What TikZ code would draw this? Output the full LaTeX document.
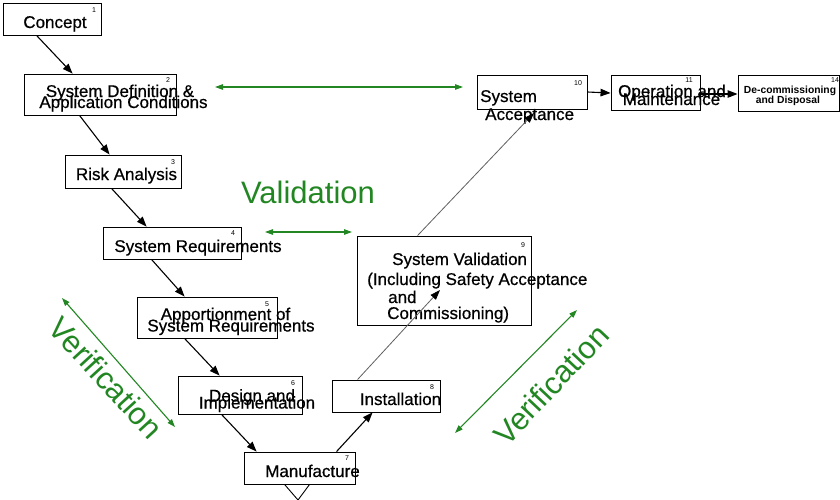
\documentclass[tikz,border=0pt]{standalone}
\usepackage{fontspec}
\setmainfont{Liberation Sans}
\newfontfamily\heavy[FakeBold=0.6]{Liberation Sans}
\usetikzlibrary{arrows.meta}
\definecolor{vgreen}{RGB}{34,135,34}
\definecolor{lgray}{RGB}{95,95,95}
\begin{document}
\begin{tikzpicture}[x=1pt,y=-1pt,
  box/.style={draw, line width=0.9pt, inner sep=0pt},
  lbl/.style={inner sep=0pt, anchor=base, font=\heavy\fontsize{17}{17}\selectfont},
  lblw/.style={inner sep=0pt, anchor=base west, font=\heavy\fontsize{17}{17}\selectfont},
  smallbold/.style={inner sep=0pt, anchor=base, font=\fontsize{10.3}{10.3}\selectfont\bfseries},
  num/.style={inner sep=0pt, anchor=center, font=\fontsize{7}{7}\selectfont},
  flow/.style={line width=1.1pt, -{Triangle[length=10pt,width=7.5pt]}},
  grayflow/.style={lgray, line width=0.8pt, -{Triangle[length=10pt,width=7pt,black]}},
  twoway/.style={vgreen, line width=1.1pt, {Triangle[length=8pt,width=5.5pt]}-{Triangle[length=8pt,width=5.5pt]}},
  big/.style={inner sep=0pt, text=vgreen, font=\fontsize{31}{31}\selectfont}]
\fill[white] (0,0) rectangle (840,499);
\useasboundingbox (0,0) rectangle (840,499);

% boxes
\node[box, minimum width=98pt, minimum height=32pt] (concept) at (52,19) {};
\node[box, minimum width=152pt, minimum height=41pt] (sysdef) at (100,94.5) {};
\node[box, minimum width=116pt, minimum height=33pt] (risk) at (123,171.5) {};
\node[box, minimum width=138pt, minimum height=32pt] (sysreq) at (172,243) {};
\node[box, minimum width=140pt, minimum height=41pt] (apport) at (207,317.5) {};
\node[box, minimum width=124pt, minimum height=38pt] (design) at (240,395) {};
\node[box, minimum width=111pt, minimum height=32pt] (manuf) at (299.5,468) {};
\node[box, minimum width=108pt, minimum height=32pt] (install) at (386,396) {};
\node[box, minimum width=174pt, minimum height=89pt] (sysval) at (444,280.5) {};
\node[box, minimum width=110pt, minimum height=34pt] (sysacc) at (532,92) {};
\node[box, minimum width=89pt, minimum height=35pt] (opmaint) at (655.5,92.5) {};
\node[box, minimum width=101pt, minimum height=36pt] (decom) at (788.5,93) {};

% labels
\node[lbl] (tconcept) at (55,28) {Concept};
\node[lbl] (tsysdefa) at (120,97) {System Definition \&};
\node[lbl] (tsysdefb) at (123.5,108) {Application Conditions};
\node[lbl] (trisk) at (126.5,180) {Risk Analysis};
\node[lbl] (tsysreq) at (198,252) {System Requirements};
\node[lbl] (tapporta) at (225.5,320) {Apportionment of};
\node[lbl] (tapportb) at (231,331.5) {System Requirements};
\node[lbl] (tdesigna) at (252,401.5) {Design and};
\node[lbl] (tdesignb) at (257,408.5) {Implementation};
\node[lbl] (tmanuf) at (312.5,477) {Manufacture};
\node[lbl] (tinstall) at (400.5,405) {Installation};
\node[lblw] (tvala) at (392,265) {System Validation};
\node[lblw] (tvalb) at (367,285) {(Including Safety Acceptance};
\node[lblw] (tvalc) at (388,303) {and};
\node[lblw] (tvald) at (387,319) {Commissioning)};
\node[lblw] (tacca) at (480,102) {System};
\node[lblw] (taccb) at (485,120) {Acceptance};
\node[lbl] (topa) at (672,97) {Operation and};
\node[lbl] (topb) at (671.5,105) {Maintenance};
\node[smallbold] (tdeca) at (790,93) {De-commissioning};
\node[smallbold] (tdecb) at (788,103) {and Disposal};

% numbers
\node[num] (n1) at (94,10) {1};
\node[num] (n2) at (168,80) {2};
\node[num] (n3) at (173,162) {3};
\node[num] (n4) at (233,233) {4};
\node[num] (n5) at (267,304) {5};
\node[num] (n6) at (293,383) {6};
\node[num] (n7) at (347,458) {7};
\node[num] (n8) at (432,387) {8};
\node[num] (n9) at (523,245) {9};
\node[num] (n10) at (578,83) {10};
\node[num] (n11) at (689,80) {11};
\node[num] (n14) at (835,80) {14};

% black flow
\draw[flow] ([xshift=34pt]concept.south west) -- ([xshift=49pt]sysdef.north west);
\draw[flow] ([xshift=56pt]sysdef.south west) -- ([xshift=45pt]risk.north west);
\draw[flow] ([xshift=47pt]risk.south west) -- ([xshift=44pt]sysreq.north west);
\draw[flow] ([xshift=49pt]sysreq.south west) -- ([xshift=48pt]apport.north west);
\draw[flow] ([xshift=48pt]apport.south west) -- ([xshift=42pt]design.north west);
\draw[flow] ([xshift=44pt]design.south west) -- ([xshift=13pt]manuf.north west);
\draw[flow] ([xshift=93pt]manuf.north west) -- ([xshift=41pt]install.south west);
\coordinate (valtip) at (440,290);
\coordinate (acctip) at (534,113);
\draw[grayflow] ([xshift=26pt]install.north west) -- (valtip);
\draw[grayflow] ([xshift=61pt]sysval.north west) -- (acctip);
\draw[flow] (sysacc.east) -- ([yshift=-0.5pt]opmaint.west);
\draw[flow] ([yshift=-1.5pt]opmaint.east) -- ([yshift=-1pt]decom.west);
\coordinate (vbottom) at (298,500);
\draw[line width=0.9pt] ([xshift=41pt]manuf.south west) -- (vbottom) -- ([xshift=66pt]manuf.south west);

% green
\coordinate (g1a) at (215,87);
\coordinate (g1b) at (463,87);
\draw[twoway] (g1a) -- (g1b);
\coordinate (g2a) at (265,232);
\coordinate (g2b) at (352,232);
\draw[twoway] (g2a) -- (g2b);
\coordinate (g3a) at (62,298);
\coordinate (g3b) at (175,427);
\draw[twoway] (g3a) -- (g3b);
\coordinate (g4a) at (577,310);
\coordinate (g4b) at (455,433);
\draw[twoway] (g4a) -- (g4b);
\node[big, anchor=base] (validation) at (308,203) {Validation};
\node[big, rotate=-47.5] (verleft) at (106,378) {Verification};
\node[big, rotate=46.7] (verright) at (551,384.5) {Verification};
\end{tikzpicture}
\end{document}
